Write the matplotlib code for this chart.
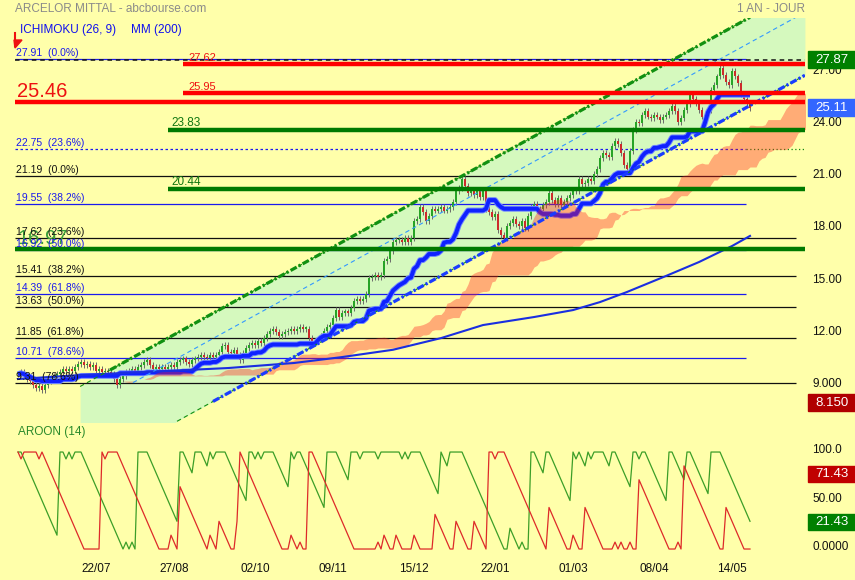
import numpy as np
import pandas as pd
import matplotlib
matplotlib.use('Agg')
import matplotlib.pyplot as plt
import matplotlib.transforms as mtransforms
from matplotlib.patches import Rectangle, Polygon
from matplotlib.lines import Line2D

plt.rcParams['font.family'] = ['Liberation Sans', 'DejaVu Sans']

# daily closes (one per trading day)
closes = [
    9.8, 9.9, 9.7, 9.5, 9.4, 9.2, 9.0, 9.1, 8.9, 9.2,
    9.4, 9.6, 9.7, 9.8, 9.9, 10.1, 10.0, 10.1, 10.0, 10.2,
    10.4, 10.5, 10.3, 10.4, 10.2, 10.3, 10.0, 10.1, 9.9, 10.0,
    9.9, 9.8, 9.5, 9.2, 9.5, 9.7, 9.9, 10.0, 10.1, 10.0,
    10.2, 10.3, 10.5, 10.6, 10.3, 10.1, 10.2, 10.1, 10.2, 10.1,
    10.2, 10.3, 10.2, 10.5, 10.6, 10.7, 10.5, 10.4, 10.6, 10.7,
    10.8, 10.9, 10.8, 10.7, 10.9, 10.8, 10.9, 11.1, 11.4, 11.5,
    11.1, 11.0, 11.2, 10.9, 10.6, 11.0, 11.3, 11.5, 11.6, 11.5,
    11.7, 11.6, 11.9, 12.1, 12.3, 12.4, 12.2, 12.0, 12.1, 12.2,
    12.3, 12.4, 12.3, 12.4, 12.5, 12.4, 12.4, 11.9, 11.6, 11.7,
    11.8, 12.0, 12.3, 12.5, 12.6, 13.0, 13.5, 13.1, 13.3, 13.4,
    13.3, 13.6, 14.0, 14.1, 14.0, 14.1, 14.4, 15.3, 15.4, 15.5,
    15.4, 15.5, 16.3, 16.4, 16.9, 17.4, 17.5, 17.5, 17.4, 17.6,
    17.4, 17.6, 18.6, 18.7, 19.4, 19.1, 18.6, 18.9, 19.3, 19.2,
    19.3, 19.4, 19.2, 19.3, 19.4, 19.7, 20.3, 20.5, 21.0, 20.6,
    20.2, 20.3, 20.1, 20.4, 20.0, 20.3, 19.3, 19.1, 18.8, 19.0,
    18.1, 17.8, 17.6, 18.3, 18.5, 18.7, 18.4, 18.3, 18.6, 18.2,
    18.9, 19.4, 19.6, 19.2, 19.3, 19.5, 19.7, 20.2, 19.8, 19.6,
    19.9, 19.5, 19.7, 19.9, 20.1, 20.4, 20.3, 21.0, 20.7, 20.8,
    21.0, 20.9, 21.3, 21.6, 22.2, 22.5, 22.4, 22.3, 22.9, 23.2,
    23.0, 22.5, 21.8, 21.6, 22.6, 23.8, 24.3, 24.2, 24.7, 24.9,
    24.6, 24.5, 24.7, 24.6, 24.4, 24.6, 24.7, 24.9, 25.2, 24.9,
    24.3, 24.5, 25.0, 25.3, 25.9, 25.6, 25.4, 25.0, 24.6, 24.7,
    25.0, 26.1, 26.4, 26.9, 27.4, 27.0, 26.6, 26.4, 27.2, 26.9,
    26.5, 25.9, 25.6, 25.3, 25.11,
]

date_ticks = [26, 52, 79, 105, 132, 159, 185, 212, 238]
date_labels = ['22/07', '27/08', '02/10', '09/11', '15/12', '22/01', '01/03', '08/04', '14/05']

# MM 200 read at a few days
mm200_days = [0, 21, 70, 92, 108, 125, 141, 155, 172, 185, 194, 203, 216, 227, 238, 244]
mm200_vals = [9.52, 9.75, 10.15, 10.44, 10.78, 11.2, 11.87, 12.62, 13.08, 13.48,
              13.94, 14.52, 15.44, 16.24, 17.16, 17.74]

# trend channel end points (day, price)
fill_days = [20.7, 262.3]
fill_low = [4.02, 26.97]
fill_high = [9.09, 32.04]
upper_days = [20.7, 244.0]
upper_vals = [9.09, 30.3]
upper_thick_days = [30.7, 244.0]
upper_thick_vals = [10.04, 30.3]
lower_days = [53.0, 262.3]
lower_vals = [7.09, 26.97]
lower_thick_days = [65.0, 262.3]
lower_thick_vals = [8.23, 26.97]
mid_days = [38.3, 259.7]
mid_vals = [9.31, 30.34]

# fibonacci levels
fib_blue_vals = [27.91, 22.75, 19.55, 16.92, 14.39, 10.71]
fib_blue_pcts = ['0.0%', '23.6%', '38.2%', '50.0%', '61.8%', '78.6%']
fib_black_vals = [21.19, 17.62, 15.41, 13.63, 11.85, 9.31]
fib_black_pcts = ['0.0%', '23.6%', '38.2%', '50.0%', '61.8%', '78.6%']

red_levels = [27.62, 25.95, 25.46]
green_levels = [23.83, 20.44, 16.97]
high_val = 27.87
last_val = 25.11
low_val = 8.15
aroon_down_last = 71.43
aroon_up_last = 21.43

price_ticks = [27, 24, 21, 18, 15, 12, 9]
price_tick_labels = ['27.00', '24.00', '21.00', '18.00', '15.00', '12.00', '9.000']
aroon_ticks = [100, 50, 0]
aroon_tick_labels = ['100.0', '50.00', '0.0000']

# ---- indicators ----
c = np.array(closes)
n = len(c)
x = np.arange(n)
o = np.r_[c[0], c[:-1]]
s = pd.Series(c)
kijun = (s.rolling(26, min_periods=1).max() + s.rolling(26, min_periods=1).min()) / 2
tenkan = (s.rolling(9, min_periods=1).max() + s.rolling(9, min_periods=1).min()) / 2
ssa = (kijun + tenkan) / 2
ssb = (s.rolling(52, min_periods=1).max() + s.rolling(52, min_periods=1).min()) / 2
cloud_x = x + 26

aroon_up = s.rolling(15, min_periods=1).apply(lambda w: 100 * (14 - np.argmax(w[::-1])) / 14, raw=True)
aroon_dn = s.rolling(15, min_periods=1).apply(lambda w: 100 * (14 - np.argmin(w[::-1])) / 14, raw=True)

# ---- figure ----
BG = '#ffffaa'
W, H = 855, 580
fig = plt.figure(figsize=(8.55, 5.8), dpi=100, facecolor=BG)


def fx(px):
    return px / W


def fy(py):
    return 1 - py / H


ax = fig.add_axes([fx(15), fy(422), (805 - 15) / W, (422 - 18) / H])
ax2 = fig.add_axes([fx(15), fy(556), (805 - 15) / W, (556 - 440) / H])
for a in (ax, ax2):
    a.set_facecolor(BG)
    a.set_xlim(-1, 262.33)
    for sp in a.spines.values():
        sp.set_visible(False)
    a.set_yticks([])
ax.set_xticks([])
ax.set_ylim(7.05, 30.26)
ax2.set_ylim(-7.2, 112.4)

# channel
ax.fill_between(fill_days, fill_low, fill_high, color='#d5f9be', lw=0, zorder=1)

# thin horizontal levels
ax.hlines(fib_black_vals, -1, 259.3, color='#111111', lw=0.9, zorder=2)
for v in fib_blue_vals:
    if v == 22.75:
        ax.hlines(v, -1, 242.7, color='#1a1aee', lw=0.9, linestyles=(0, (2, 2)), zorder=2)
        ax.hlines(v, 242.7, 262.3, color='#118811', lw=0.9, linestyles=(0, (1, 2)), zorder=2)
    else:
        ax.hlines(v, -1, 242.7, color='#1a1aee', lw=0.9, zorder=2)
ax.hlines(high_val, -1, 262.3, color='#111111', lw=1.1, linestyles=(0, (3, 2.5)), zorder=2)

# candles
lo = np.minimum(o, c)
hi = np.maximum(o, c)
ax.vlines(x, lo - 0.17, hi + 0.17, color='#6a6a6a', lw=0.7, zorder=3)
cols = np.where(c >= o, '#27a327', '#cc2b2b')
ax.bar(x, np.maximum(hi - lo, 0.08), bottom=lo, width=0.78, color=cols, lw=0, zorder=3.5)

# kijun
ax.plot(x, kijun, color='#6f86ff', lw=4.2, zorder=4, solid_capstyle='butt')
ax.plot(x, kijun, color='#0f22ff', lw=2.8, zorder=4.1, solid_capstyle='butt')

# cloud
ax.fill_between(cloud_x, ssa, ssb, color='#ff1a1a', alpha=0.36, lw=0, zorder=5)

# MM 200
ax.plot(mm200_days, mm200_vals, color='#1a2ee0', lw=1.5, zorder=6)

# channel lines
ax.plot(upper_days, upper_vals, color='#119011', lw=0.8, ls=(0, (4, 3)), zorder=6)
ax.plot(upper_thick_days, upper_thick_vals, color='#119011', lw=2.3,
        dashes=(2.2, 0.7, 0.7, 0.7), zorder=6.1)
ax.plot(lower_days, lower_vals, color='#119011', lw=0.8, ls=(0, (4, 3)), zorder=6)
ax.plot(lower_thick_days, lower_thick_vals, color='#1a3cff', lw=2.3,
        dashes=(2.2, 0.7, 0.7, 0.7), zorder=6.1)
ax.plot(mid_days, mid_vals, color='#3399ff', lw=0.8, ls=(0, (4, 3)), zorder=6)

# thick support / resistance
ax.hlines(red_levels[:2], 55, 262.3, color='#ff0000', lw=3.2, zorder=7)
ax.hlines(red_levels[2], -1, 262.3, color='#ff0000', lw=3.2, zorder=7)
ax.hlines(green_levels[:2], 50, 262.3, color='#007a00', lw=3.2, zorder=7)
ax.hlines(green_levels[2], -1, 262.3, color='#007a00', lw=3.2, zorder=7)

# level labels
up_tr = mtransforms.offset_copy(ax.transData, fig=fig, y=1, units='dots')
ax.text(-0.3, green_levels[2], f'{green_levels[2]:.2f}', transform=up_tr, color='#3a9e3a',
        fontsize=14.5, va='bottom', ha='left', zorder=7.5)
ax.text(-0.3, red_levels[2], f'{red_levels[2]:.2f}', transform=up_tr, color='#ee1111',
        fontsize=14.5, va='bottom', ha='left', zorder=7.5)
for v in red_levels[:2]:
    ax.text(56.7, v, f'{v:.2f}', transform=up_tr, color='#ee1111', fontsize=8,
            va='bottom', ha='left', zorder=7.5)
for v in green_levels[:2]:
    ax.text(51.3, v, f'{v:.2f}', transform=up_tr, color='#117711', fontsize=8.5,
            va='bottom', ha='left', zorder=7.5)
for v, p in zip(fib_blue_vals, fib_blue_pcts):
    ax.text(-0.6, v, f'{v:.2f}  ({p})', transform=up_tr, color='#1a1aee', fontsize=7.5,
            va='bottom', ha='left', zorder=8)
for v, p in zip(fib_black_vals, fib_black_pcts):
    ax.text(-0.6, v, f'{v:.2f}  ({p})', transform=up_tr, color='#111111', fontsize=7.5,
            va='bottom', ha='left', zorder=8)

# right price axis
tr_main = mtransforms.blended_transform_factory(fig.transFigure, ax.transData)
lab_main = mtransforms.offset_copy(tr_main, fig=fig, y=4, units='dots')
for v, t in zip(price_ticks, price_tick_labels):
    ax.text(fx(812), v, t, transform=lab_main, va='center', ha='left', fontsize=8.5,
            color='#111111', clip_on=False)


def tag(axis, tr, v, h, text, color):
    axis.add_patch(Rectangle((fx(808), v - h / 2), 47 / W, h, transform=tr, color=color,
                             clip_on=False, zorder=10))
    axis.text(fx(831.5), v, text, transform=tr, color='white', fontsize=9.5, va='center',
              ha='center', clip_on=False, zorder=11)


tag(ax, tr_main, high_val, 17 / 17.4, f'{high_val:.2f}', '#008000')
tag(ax, tr_main, last_val, 17 / 17.4, f'{last_val:.2f}', '#3366ff')
tag(ax, tr_main, low_val, 17 / 17.4, f'{low_val:.3f}', '#b00000')

# aroon
ax2.plot(x, aroon_up, color='#3c9e28', lw=0.9, zorder=3)
ax2.plot(x, aroon_dn, color='#dd2a2a', lw=0.9, zorder=3)
tr_ar = mtransforms.blended_transform_factory(fig.transFigure, ax2.transData)
lab_ar = mtransforms.offset_copy(tr_ar, fig=fig, y=2, units='dots')
for v, t in zip(aroon_ticks, aroon_tick_labels):
    ax2.text(fx(812), v, t, transform=lab_ar, va='center', ha='left', fontsize=8.5,
             color='#111111', clip_on=False)
tag_ar = mtransforms.offset_copy(tr_ar, fig=fig, y=6, units='dots')
tag(ax2, tag_ar, aroon_down_last, 16 / 0.97, f'{aroon_down_last:.2f}', '#c00000')
tag(ax2, tag_ar, aroon_up_last, 16 / 0.97, f'{aroon_up_last:.2f}', '#008000')

ax2.set_xticks(date_ticks, date_labels)
ax2.tick_params(axis='x', length=0, pad=5, labelsize=8.5, labelcolor='#111111')

# headers
fig.text(fx(15), fy(9), 'ARCELOR MITTAL - abcbourse.com', color='#8a8a8a', fontsize=8.5,
         va='center', ha='left')
fig.text(fx(805), fy(9), '1 AN - JOUR', color='#8a8a8a', fontsize=8.5, va='center', ha='right')
fig.text(fx(20), fy(30), 'ICHIMOKU (26, 9)', color='#1010ee', fontsize=8.5, va='center', ha='left')
fig.text(fx(131), fy(30), 'MM (200)', color='#1010ee', fontsize=8.5, va='center', ha='left')
fig.text(fx(18), fy(432), 'AROON (14)', color='#2a8a2a', fontsize=8.5, va='center', ha='left')

# small red marker top-left
fig.add_artist(Line2D([fx(14.5), fx(14.5)], [fy(33), fy(46)], color='#ee1111', lw=1.5))
fig.add_artist(Polygon([(fx(14), fy(40)), (fx(22), fy(40)), (fx(15), fy(48))],
                       closed=True, color='#ee1111', transform=fig.transFigure))

fig.savefig('out.png', dpi=100, facecolor=BG)
